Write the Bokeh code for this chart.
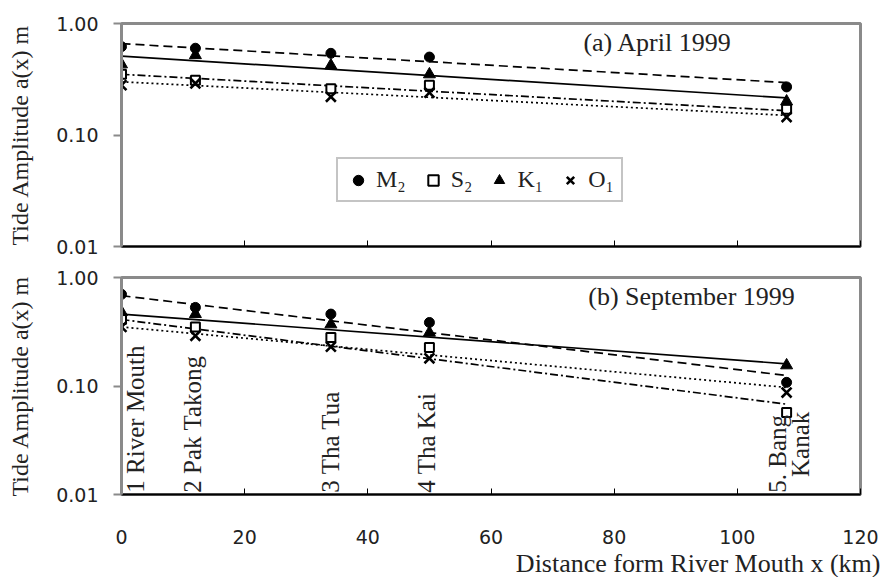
from bokeh.plotting import figure
from bokeh.models import (FixedTicker, PrintfTickFormatter, Label, Legend,
                          LegendItem, Title, CustomLabelingPolicy)
from bokeh.layouts import column
from bokeh.embed import file_html
from bokeh.resources import INLINE

# ---- data ----
stations_km = [0, 12, 34, 50, 108]
station_names = ["1 River Mouth", "2 Pak Takong", "3 Tha Tua", "4 Tha Kai", "5. Bang", "Kanak"]

# (a) April 1999 observed amplitudes (m)
apr_m2 = [0.62, 0.60, 0.54, 0.50, 0.27]
apr_s2 = [0.35, 0.31, 0.26, 0.28, 0.17]
apr_k1 = [0.43, 0.52, 0.42, 0.35, 0.20]
apr_o1 = [0.28, 0.29, 0.22, 0.24, 0.145]

# (b) September 1999 observed amplitudes (m)
sep_m2 = [0.70, 0.53, 0.46, 0.385, 0.108]
sep_s2 = [0.41, 0.35, 0.28, 0.226, 0.057]
sep_k1 = [0.48, 0.46, 0.37, 0.31, 0.155]
sep_o1 = [0.35, 0.29, 0.23, 0.18, 0.087]

# fitted (exponential) trend lines: values at the two ends
fit_x = [0, 108]
apr_fit_m2 = [0.66, 0.295]
apr_fit_s2 = [0.35, 0.165]
apr_fit_k1 = [0.51, 0.215]
apr_fit_o1 = [0.30, 0.15]
sep_fit_m2 = [0.68, 0.125]
sep_fit_s2 = [0.41, 0.068]
sep_fit_k1 = [0.46, 0.16]
sep_fit_o1 = [0.35, 0.097]

x_ticks = [0, 20, 40, 60, 80, 100, 120]
y_ticks = [0.01, 0.1, 1.0]
legend_labels = ["M\u2082", "S\u2082", "K\u2081", "O\u2081"]

SERIF = "Liberation Serif"
SANS = "DejaVu Sans"
GRAY = "#8a8a8a"
TXT = "#222222"


def make_panel(frame_h, top, bottom, show_x_labels):
    p = figure(frame_width=739, frame_height=frame_h, x_range=(0, 120),
               y_range=(0.01, 1.0), y_axis_type="log",
               output_backend="svg", toolbar_location=None,
               min_border_left=121, min_border_right=21,
               min_border_top=top, min_border_bottom=bottom)
    p.xgrid.grid_line_color = None
    p.ygrid.grid_line_color = None
    p.outline_line_color = GRAY
    p.outline_line_width = 3
    p.background_fill_color = "white"
    p.border_fill_color = "white"

    ya = p.yaxis[0]
    ya.ticker = FixedTicker(ticks=y_ticks, minor_ticks=[])
    ya.formatter = PrintfTickFormatter(format="%.2f")
    ya.axis_line_color = GRAY
    ya.axis_line_width = 3
    ya.major_tick_line_color = GRAY
    ya.major_tick_line_width = 2
    ya.major_tick_out = 8
    ya.major_tick_in = 0
    ya.minor_tick_line_color = None
    ya.major_label_standoff = 15
    ya.major_label_text_font = SANS
    ya.major_label_text_font_size = "19px"
    ya.major_label_text_color = TXT
    ya.axis_label = "Tide Amplitude a(x) m"
    ya.axis_label_text_font = SERIF
    ya.axis_label_text_font_size = "24px"
    ya.axis_label_text_font_style = "normal"
    ya.axis_label_text_color = TXT
    ya.axis_label_standoff = 20

    xa = p.xaxis[0]
    xa.ticker = FixedTicker(ticks=x_ticks, minor_ticks=[])
    xa.axis_line_color = "black"
    xa.axis_line_width = 2
    xa.major_tick_line_color = "black"
    xa.major_tick_line_width = 1
    xa.major_tick_in = 6
    xa.major_tick_out = 0
    xa.minor_tick_line_color = None
    xa.major_label_text_font = SANS
    xa.major_label_text_font_size = "19px"
    xa.major_label_text_color = TXT
    if show_x_labels:
        xa.major_label_standoff = 35
    else:
        xa.major_label_standoff = 0
        xa.major_label_policy = CustomLabelingPolicy(
            code="for (const i of indices) { if (i < 0) { yield i } }")
    return p


def draw_series(p, m2, s2, k1, o1, fm2, fs2, fk1, fo1):
    lw = 1.7
    p.line(fit_x, fm2, line_color="black", line_width=lw, line_dash="9 5")
    p.line(fit_x, fk1, line_color="black", line_width=lw)
    p.line(fit_x, fs2, line_color="black", line_width=lw, line_dash="8 3 2 3")
    p.line(fit_x, fo1, line_color="black", line_width=lw, line_dash="2 3")
    r_m2 = p.scatter(stations_km, m2, marker="circle", size=10,
                     fill_color="black", line_color="black")
    r_s2 = p.scatter(stations_km, s2, marker="square", size=9,
                     fill_color="white", line_color="black", line_width=2)
    r_k1 = p.scatter(stations_km, k1, marker="triangle", size=12,
                     fill_color="black", line_color="black")
    r_o1 = p.scatter(stations_km, o1, marker="x", size=14,
                     line_color="black", line_width=2.6)
    return [r_m2, r_s2, r_k1, r_o1]


# ---- panel (a) ----
p1 = make_panel(223, 23, 14, False)
rs = draw_series(p1, apr_m2, apr_s2, apr_k1, apr_o1,
                 apr_fit_m2, apr_fit_s2, apr_fit_k1, apr_fit_o1)
legend = Legend(items=[LegendItem(label=lab, renderers=[r])
                       for lab, r in zip(legend_labels, rs)],
                orientation="horizontal", location=(215, 44))
legend.label_text_font = SERIF
legend.label_text_font_size = "24px"
legend.label_text_color = TXT
legend.glyph_width = 26
legend.glyph_height = 26
legend.label_standoff = 5
legend.spacing = 14
legend.padding = 7
legend.margin = 0
legend.border_line_color = GRAY
legend.border_line_width = 2
legend.background_fill_color = "white"
legend.background_fill_alpha = 1.0
p1.add_layout(legend, "center")
p1.add_layout(Label(x=75.0, y=0.675, text="(a) April 1999",
                    text_font=SERIF, text_font_size="26px",
                    text_color=TXT, text_baseline="middle"))

# ---- panel (b) ----
p2 = make_panel(217, 14, 60, True)
draw_series(p2, sep_m2, sep_s2, sep_k1, sep_o1,
            sep_fit_m2, sep_fit_s2, sep_fit_k1, sep_fit_o1)
p2.add_layout(Label(x=75.8, y=0.67, text="(b) September 1999",
                    text_font=SERIF, text_font_size="26px",
                    text_color=TXT, text_baseline="middle"))

# station labels (vertical text)
station_label_x = [2.3, 11.5, 33.9, 49.6, 106.5, 110.2]
station_label_y = [0.0104, 0.0104, 0.0104, 0.0104, 0.0104, 0.0145]
for name, lx, ly in zip(station_names, station_label_x, station_label_y):
    p2.add_layout(Label(x=lx, y=ly, text=name, angle=1.5708,
                        text_font=SERIF, text_font_size="25px",
                        text_color=TXT, text_baseline="middle",
                        text_align="left"))

# x axis title, right aligned and reaching past the frame like the original
p2.add_layout(Title(text="Distance form River Mouth x (km)", align="right",
                    offset=-20, standoff=0, text_font=SERIF,
                    text_font_size="26px", text_font_style="normal",
                    text_color=TXT), "below")

layout = column(p1, p2, spacing=0)
open("out.html", "w").write(file_html(layout, INLINE))
